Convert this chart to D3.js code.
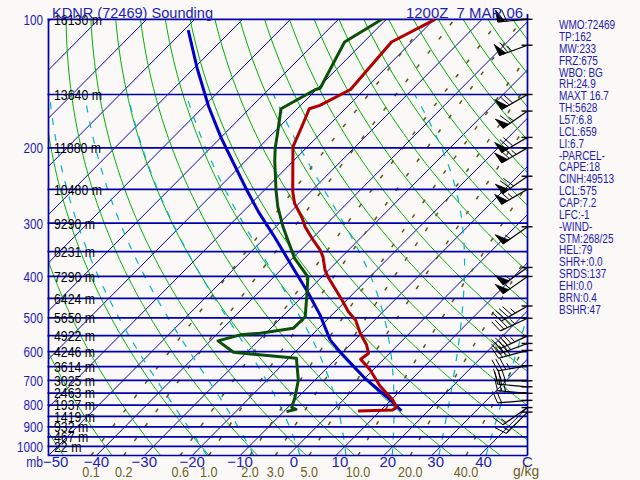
<!DOCTYPE html>
<html><head><meta charset="utf-8">
<script src="https://cdn.jsdelivr.net/npm/d3@7"></script>
<style>
html,body{margin:0;padding:0;background:#fbf8f8;}
svg{display:block;}
text{font-family:"Liberation Sans",Arial,sans-serif;}
</style></head>
<body><svg id="c" width="640" height="480"></svg>
<script>
// ---------------- data ----------------
const pressureLines = [100,150,200,250,300,350,400,450,500,550,600,650,700,750,800,850,900,950,1000];
const pressureLabels = [100,200,300,400,500,600,700,800,900,1000];
const heightP = [100,150,200,250,300,350,400,450,500,550,600,650,700,750,800,850,900,950,1000];
const heightM = ["16130","13640","11880","10480","9290","8231","7290","6424","5650","4922","4246","3614","3025","2463","1937","1419","932","467","22"];
const tempTicks = [-40,-30,-20,-10,0,10,20,30,40];
const mixRatios = [0.1,0.2,0.6,1.0,2.0,3.0,5.0,10.0,20.0,40.0];
const mixLabels = ["0.1","0.2","0.6","1.0","2.0","3.0","5.0","10.0","20.0","40.0"];
const isotherms = d3.range(-140,51,10);
const dryAdiabats = d3.range(-50,181,10);   // theta in C at 1000 mb
const moistAdiabats = [-20,-10,0,10,20,30,40]; // theta-w in C

const tempP = [100,113,146,159,162,178,199,253,270,292,306,329,347,360,386,401,454,484,506,543,579,605,625,662,721,779,810,822,826];
const tempT = [-59.8,-64.2,-62.9,-66.0,-67.5,-65.4,-63.0,-53.8,-50.9,-46.3,-43.9,-39.4,-35.9,-33.9,-30.8,-28.7,-21.0,-17.2,-14.0,-10.3,-6.5,-4.4,-4.8,-0.6,4.7,10.4,12.7,12.4,5.4];
const dewP = [100,113,145,146,162,188,200,214,251,275,306,329,363,401,438,497,529,543,548,566,602,605,622,699,765,810,819,829];
const dewT = [-70.9,-74.0,-69.5,-70.2,-73.4,-68.5,-66.5,-64.0,-57.6,-53.7,-48.5,-44.7,-39.5,-32.9,-29.7,-25.2,-25.3,-31.2,-35.0,-38.4,-32.8,-30.5,-18.4,-13.5,-10.7,-9.2,-7.9,-9.4];
const parcelP = [106,130,160,188,202,251,282,320,383,438,492,563,600,693,765,825];
const parcelT = [-109.1,-99.4,-89.0,-80.3,-76.2,-63.7,-56.8,-48.8,-37.7,-29.4,-22.5,-15.2,-10.7,0.1,8.4,14.4];

const windP   = [100,115,150,164,189,200,233,250,306,381,400,469,501,551,574,596,647,702,725,751,780,811,831];
const windDir = [265,250,240,235,240,240,235,240,235,235,235,240,245,245,250,255,260,270,275,275,265,235,225];
const windSpd = [60,65,70,65,70,75,70,65,55,55,55,45,45,45,40,40,35,30,25,25,20,15,15];

const titleLeft = "KDNR (72469) Sounding";
const titleRight = "1200Z  7 MAR 06";
const statLines = ["WMO:72469","TP:162","MW:233","FRZ:675","WBO: BG","RH:24.9","MAXT 16.7","TH:5628","L57:6.8","LCL:659","LI:6.7","-PARCEL-","CAPE:18","CINH:49513","LCL:575","CAP:7.2","LFC:-1","-WIND-","STM:268/25","HEL:79","SHR+:0.0","SRDS:137","EHI:0.0","BRN:0.4","BSHR:47"];

// ---------------- scales ----------------
const PTOP = 100, PBOT = 1050, SKEW = 0.994;
const y = d3.scaleLog().domain([PTOP, PBOT]).range([19.3, 455.5]);
const xT = d3.scaleLinear().domain([-50, 50]).range([48.5, 527.5]);
const yBot = y(PBOT);
const sx = (T, p) => xT(T) + SKEW * (yBot - y(p));
const L = 48.5, R = 527.5, TOP = 19.3, BOT = 455.5;
const BLUE_TXT = "#1c1cb4", OLIVE = "#6b5f1c";

const svg = d3.select("#c");
svg.append("rect").attr("width",640).attr("height",480).attr("fill","#fbf8f8");
svg.append("defs").append("clipPath").attr("id","box")
  .append("rect").attr("x",L).attr("y",TOP).attr("width",R-L).attr("height",BOT-TOP);
const grid = svg.append("g").attr("clip-path","url(#box)");
const line = d3.line().x(d => sx(d[1], d[0])).y(d => y(d[0]));

// squeeze text horizontally to mimic the narrow plotter font
function squeeze(sel, f) {
  sel.each(function () {
    const w = this.getComputedTextLength();
    this.setAttribute("textLength", (w * f).toFixed(1));
    this.setAttribute("lengthAdjust", "spacingAndGlyphs");
  });
}

// thermodynamics
const esat = Tc => 6.112 * Math.exp(17.67 * Tc / (Tc + 243.5));
const tdFromW = (w, p) => { const e = w * p / (622 + w); const l = Math.log(e / 6.112); return 243.5 * l / (17.67 - l); };
function dTdp(T, p) {
  const Rd = 287.04, cp = 1005.7, Lv = 2.501e6, eps = 0.622;
  const es = esat(T - 273.15); const rs = eps * es / (p - es);
  return (Rd * T + Lv * rs) / (cp + Lv * Lv * rs * eps / (Rd * T * T)) / p;
}
function moist(tw) {
  const up = [], dn = [];
  let T = tw + 273.15, p = 1000; up.push([p, T - 273.15]);
  while (p > 150) { const h = -2; const k1 = dTdp(T, p); const k2 = dTdp(T + k1 * h / 2, p + h / 2); T += k2 * h; p += h; up.push([p, T - 273.15]); }
  T = tw + 273.15; p = 1000;
  while (p < PBOT) { const h = 2; const k1 = dTdp(T, p); const k2 = dTdp(T + k1 * h / 2, p + h / 2); T += k2 * h; p += h; dn.push([p, T - 273.15]); }
  return dn.reverse().concat(up);
}
const pLevels = d3.range(PBOT, PTOP - 0.1, -5);

// isotherms
grid.selectAll(".iso").data(isotherms).join("path")
  .attr("d", T => line([[PBOT, T], [PTOP, T]]))
  .attr("stroke","#0000b4").attr("stroke-width",1).attr("fill","none");
// dry adiabats
grid.selectAll(".dry").data(dryAdiabats).join("path")
  .attr("d", th => line(pLevels.map(p => [p, (th + 273.15) * Math.pow(p / 1000, 0.2857) - 273.15])))
  .attr("stroke","#00b000").attr("stroke-width",1).attr("fill","none");
// moist adiabats
grid.selectAll(".moist").data(moistAdiabats).join("path")
  .attr("d", tw => line(moist(tw)))
  .attr("stroke","#00b4c8").attr("stroke-width",1.2).attr("stroke-dasharray","7,9").attr("fill","none");
// mixing ratio lines
grid.selectAll(".mix").data(mixRatios).join("path")
  .attr("d", w => line(pLevels.map(p => [p, tdFromW(w, p)])))
  .attr("stroke","#5f5512").attr("stroke-width",1.5).attr("stroke-dasharray","4,14").attr("fill","none");

// pressure lines
svg.selectAll(".pl").data(pressureLines).join("line")
  .attr("x1", L - 1).attr("x2", R).attr("y1", p => y(p)).attr("y2", p => y(p))
  .attr("stroke","#0000a8").attr("stroke-width",1.7);

// frame
svg.append("path").attr("d", `M${L},${TOP}V${BOT}H${R}`).attr("stroke","#0000a8").attr("stroke-width",1.7).attr("fill","none");
svg.append("line").attr("x1",R).attr("x2",R).attr("y1",14).attr("y2",BOT).attr("stroke","#0000a8").attr("stroke-width",1.7);

// profiles
const prof = (P, T, col, w) => svg.append("path").attr("d", line(P.map((p, i) => [p, T[i]])))
  .attr("stroke", col).attr("stroke-width", w).attr("fill","none").attr("stroke-linejoin","round").attr("clip-path","url(#box)");
prof(parcelP, parcelT, "#0000c8", 3);
prof(dewP, dewT, "#0b4f0b", 3);
prof(tempP, tempT, "#b00000", 3);

// wind barbs
const wg = svg.append("g").attr("stroke","#000").attr("fill","#000");
windP.forEach((p, i) => {
  const yy = y(p);
  wg.append("line").attr("x1", R - 6).attr("x2", R + 5).attr("y1", yy).attr("y2", yy).attr("stroke-width",1.4);
  const a = windDir[i] * Math.PI / 180, ux = Math.sin(a), uy = -Math.cos(a), nx = -uy, ny = ux;
  const x0 = R, y0 = yy, Ls = 30, fl = 12;
  const P = d => [x0 + ux * d, y0 + uy * d];
  wg.append("line").attr("x1", x0).attr("y1", y0).attr("x2", P(Ls)[0]).attr("y2", P(Ls)[1]).attr("stroke-width",1.2);
  let s = Math.round(windSpd[i] / 5) * 5, pos = Ls;
  while (s >= 50) {
    const a1 = P(pos), a2 = P(pos - 7);
    const ap = [a1[0] + nx * fl + ux * 1, a1[1] + ny * fl + uy * 1];
    wg.append("polygon").attr("points", [a1, ap, a2].map(q => q.join(",")).join(" ")).attr("stroke-width",0.8);
    pos -= 9; s -= 50;
  }
  while (s >= 10) {
    const a1 = P(pos);
    wg.append("line").attr("x1", a1[0]).attr("y1", a1[1]).attr("x2", a1[0] + nx * fl + ux * 4).attr("y2", a1[1] + ny * fl + uy * 4).attr("stroke-width",1);
    pos -= 4; s -= 10;
  }
  if (s >= 5) {
    if (pos === Ls) pos -= 4;
    const a1 = P(pos);
    wg.append("line").attr("x1", a1[0]).attr("y1", a1[1]).attr("x2", a1[0] + nx * fl / 2 + ux * 2).attr("y2", a1[1] + ny * fl / 2 + uy * 2).attr("stroke-width",1);
  }
});

// height labels
squeeze(svg.selectAll(".hl").data(heightP).join("text")
  .attr("x", 54).attr("y", p => y(p)).attr("dy","0.36em")
  .attr("font-size", 15).attr("fill","#000").text((p, i) => heightM[i] + " m"), 0.82);

// pressure labels
squeeze(svg.selectAll(".pL").data(pressureLabels).join("text")
  .attr("x", 43).attr("y", p => y(p)).attr("dy","0.36em").attr("text-anchor","end")
  .attr("font-size", 15).attr("fill", BLUE_TXT).text(p => p), 0.78);

// temperature axis labels
squeeze(svg.append("text").attr("x",43).attr("y",467).attr("text-anchor","end").attr("font-size",15).attr("fill",BLUE_TXT).text("mb"), 0.8);
svg.append("text").attr("x",43).attr("y",467).attr("font-size",15).attr("fill",BLUE_TXT).text("\u221250");
svg.selectAll(".tl").data(tempTicks).join("text")
  .attr("x", T => xT(T) + (T === 0 ? 6 : T > 0 ? 4 : 0))
  .attr("y", 467).attr("text-anchor","middle").attr("font-size",15).attr("fill",BLUE_TXT)
  .text(T => T < 0 ? "\u2212" + Math.abs(T) : T);
svg.append("text").attr("x", xT(50)).attr("y",467).attr("text-anchor","middle").attr("font-size",15).attr("fill",BLUE_TXT).text("C");

// mixing ratio labels
squeeze(svg.selectAll(".ml").data(mixRatios).join("text")
  .attr("x", w => sx(tdFromW(w, PBOT), PBOT)).attr("y", 477).attr("text-anchor","middle")
  .attr("font-size",15).attr("fill",OLIVE).text((w, i) => mixLabels[i]), 0.84);
squeeze(svg.append("text").attr("x",513).attr("y",476).attr("font-size",15).attr("fill",OLIVE).text("g/kg"), 0.92);

// titles
svg.append("text").attr("x",52).attr("y",17.5).attr("font-size",15).attr("fill",BLUE_TXT)
  .attr("textLength",161).attr("lengthAdjust","spacingAndGlyphs").text(titleLeft);
svg.append("text").attr("x",406).attr("y",17.5).attr("font-size",15).attr("fill",BLUE_TXT).style("white-space","pre")
  .attr("textLength",117).attr("lengthAdjust","spacingAndGlyphs").text(titleRight);

// stats column
squeeze(svg.selectAll(".st").data(statLines).join("text")
  .attr("x",559).attr("y",(d, i) => 29.2 + 11.85 * i)
  .attr("font-size",12.5).attr("fill",BLUE_TXT).text(d => d), 0.8);
</script></body></html>
